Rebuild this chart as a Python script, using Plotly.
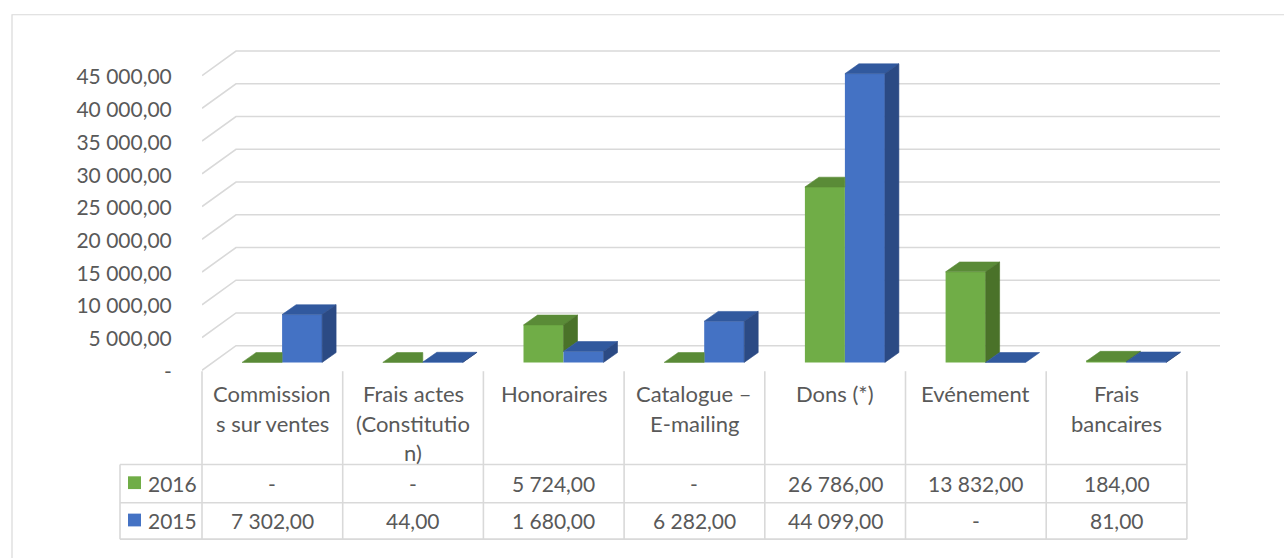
import plotly.graph_objects as go

# ---------------- data ----------------
category_lines = [
    ["Commission", "s sur ventes"],
    ["Frais actes", "(Constitutio", "n)"],
    ["Honoraires"],
    ["Catalogue –", "E-mailing"],
    ["Dons (*)"],
    ["Evénement"],
    ["Frais", "bancaires"],
]
series_names = ["2016", "2015"]
values_2016 = [0, 0, 5724, 0, 26786, 13832, 184]
values_2015 = [7302, 44, 1680, 6282, 44099, 0, 81]
y_tick_values = [0, 5000, 10000, 15000, 20000, 25000, 30000, 35000, 40000, 45000]

# ---------------- style / geometry ----------------
W, H = 1284, 558
FONT = "Lato"
TXT = "#595959"
GRID = "#D9D9D9"
FS = 21
FS_CAT = 22

COL_PX = 140.7           # pixel width of one category column
X0_PX = 202              # left edge of first column
PLOT_RIGHT_PX = 1220
Y_BASE_PX = 369          # pixel of value 0 at the bars' front
UNITS_PER_PX = 150.0
PLOT_TOP_PX, PLOT_BOT_PX = 30, 380

x_range = [-0.5, -0.5 + (PLOT_RIGHT_PX - X0_PX) / COL_PX]
y_range = [(Y_BASE_PX - PLOT_BOT_PX) * UNITS_PER_PX, (Y_BASE_PX - PLOT_TOP_PX) * UNITS_PER_PX]

DEPTH_DX = 14 / COL_PX
DEPTH_DY = 10 * UNITS_PER_PX
BACK_DY = (Y_BASE_PX - 352) * UNITS_PER_PX
FRONT_DY = -1200
X_WALL_BACK = -0.5 + (236 - X0_PX) / COL_PX
BAR_W = 40 / COL_PX
OFFS = [-0.215, -0.215 + BAR_W]

COLORS = {
    "2016": dict(front="#70AD47", top="#5A8B37", side="#4A7229"),
    "2015": dict(front="#4472C4", top="#31599E", side="#2B4A84"),
}


def fmt(v):
    if v == 0:
        return "-"
    s = f"{v:,.2f}"
    return s.replace(",", " ").replace(".", ",")


def px_x(p):
    return p / W


def px_y(p):
    return 1 - p / H


fig = go.Figure()

# ---------- front faces (bars) ----------
series = [values_2016, values_2015]
idx = list(range(len(category_lines)))
for name, vals, off in zip(series_names, series, OFFS):
    fig.add_trace(go.Bar(
        x=idx, y=vals, width=BAR_W, offset=off, base=0,
        marker=dict(color=COLORS[name]["front"], line=dict(width=0)),
        name=name, showlegend=False, hoverinfo="skip",
    ))


def poly(xs, ys, color):
    fig.add_trace(go.Scatter(
        x=xs + [xs[0]], y=ys + [ys[0]], mode="lines", fill="toself",
        fillcolor=color, line=dict(color=color, width=0.6),
        hoverinfo="skip", showlegend=False,
    ))


# ---------- top & side faces ----------
for i in idx:
    hg, hb = values_2016[i], values_2015[i]
    # green
    xl = i + OFFS[0]
    xr = xl + BAR_W
    c = COLORS["2016"]
    if hb > hg:
        poly([xl, xr, xr, xl + DEPTH_DX], [hg, hg, hg + DEPTH_DY, hg + DEPTH_DY], c["top"])
    else:
        poly([xl, xr, xr + DEPTH_DX, xl + DEPTH_DX], [hg, hg, hg + DEPTH_DY, hg + DEPTH_DY], c["top"])
        low = max(hb, 0)
        if hg > low:
            poly([xr, xr, xr + DEPTH_DX, xr + DEPTH_DX],
                 [low, hg, hg + DEPTH_DY, low + DEPTH_DY], c["side"])
    # blue
    xl = i + OFFS[1]
    xr = xl + BAR_W
    c = COLORS["2015"]
    poly([xl, xr, xr + DEPTH_DX, xl + DEPTH_DX], [hb, hb, hb + DEPTH_DY, hb + DEPTH_DY], c["top"])
    if hb > 0:
        poly([xr, xr, xr + DEPTH_DX, xr + DEPTH_DX],
             [0, hb, hb + DEPTH_DY, DEPTH_DY], c["side"])

# ---------- gridlines (walls) ----------
shapes = []
for v in y_tick_values:
    shapes.append(dict(type="path", xref="x", yref="y", layer="below",
                       path=f"M {x_range[0]},{v + FRONT_DY} L {X_WALL_BACK},{v + BACK_DY} L {x_range[1]},{v + BACK_DY}",
                       line=dict(color=GRID, width=1.6)))

# ---------- data table lines ----------
ncol = len(category_lines)
TBL_TOP, ROW1, ROW2, TBL_BOT = 378, 473, 512, 549
LEG_LEFT = 120
for k in range(ncol + 1):
    xp = X0_PX + COL_PX * k
    shapes.append(dict(type="line", xref="paper", yref="paper",
                       x0=px_x(xp), x1=px_x(xp), y0=px_y(TBL_TOP), y1=px_y(TBL_BOT),
                       line=dict(color=GRID, width=1.6)))
shapes.append(dict(type="line", xref="paper", yref="paper",
                   x0=px_x(LEG_LEFT), x1=px_x(LEG_LEFT), y0=px_y(ROW1), y1=px_y(TBL_BOT),
                   line=dict(color=GRID, width=1.6)))
for yy in (ROW1, ROW2, TBL_BOT):
    shapes.append(dict(type="line", xref="paper", yref="paper",
                       x0=px_x(LEG_LEFT), x1=px_x(X0_PX + COL_PX * ncol), y0=px_y(yy), y1=px_y(yy),
                       line=dict(color=GRID, width=1.6)))

# legend keys
for name, (y0, y1) in zip(series_names, [(485, 498), (523, 536)]):
    shapes.append(dict(type="rect", xref="paper", yref="paper",
                       x0=px_x(128), x1=px_x(141), y0=px_y(y1), y1=px_y(y0),
                       fillcolor=COLORS[name]["front"], line=dict(width=0)))

# outer chart border
shapes.append(dict(type="rect", xref="paper", yref="paper",
                   x0=px_x(12), x1=1.05, y0=-0.05, y1=px_y(15),
                   line=dict(color=GRID, width=1.2), fillcolor="rgba(0,0,0,0)", layer="below"))

# ---------- texts ----------
ann = []
LINE_Y = [401, 431, 461]
for i, lines in enumerate(category_lines):
    for j, t in enumerate(lines):
        ann.append(dict(x=i, xref="x", y=px_y(LINE_Y[j]), yref="paper", text=t,
                        showarrow=False, xanchor="center", yanchor="middle",
                        font=dict(family=FONT, size=FS_CAT, color=TXT)))
ROW_Y = [492, 530]
for name, vals, ry in zip(series_names, series, ROW_Y):
    ann.append(dict(x=px_x(146), xref="paper", y=px_y(ry), yref="paper", text=name,
                    showarrow=False, xanchor="left", yanchor="middle",
                    font=dict(family=FONT, size=FS, color=TXT)))
    for i, v in enumerate(vals):
        ann.append(dict(x=i, xref="x", y=px_y(ry), yref="paper", text=fmt(v),
                        showarrow=False, xanchor="center", yanchor="middle",
                        font=dict(family=FONT, size=FS, color=TXT)))

fig.update_layout(
    width=W, height=H,
    margin=dict(l=0, r=0, t=0, b=0),
    paper_bgcolor="white", plot_bgcolor="rgba(0,0,0,0)",
    barmode="overlay",
    showlegend=False,
    shapes=shapes,
    annotations=ann,
    xaxis=dict(domain=[px_x(X0_PX), px_x(PLOT_RIGHT_PX)], range=x_range,
               visible=False, fixedrange=True),
    yaxis=dict(domain=[px_y(PLOT_BOT_PX), px_y(PLOT_TOP_PX)], range=y_range,
               tickvals=[v - 1400 for v in y_tick_values],
               ticktext=[fmt(v) for v in y_tick_values],
               ticks="outside", ticklen=25, tickcolor="rgba(0,0,0,0)",
               showgrid=False, zeroline=False, showline=False,
               tickfont=dict(family=FONT, size=FS, color=TXT), fixedrange=True),
)

fig.write_html("out.html", config={"displayModeBar": False},
               post_script="document.body.style.margin='0';document.body.style.overflow='hidden';")
